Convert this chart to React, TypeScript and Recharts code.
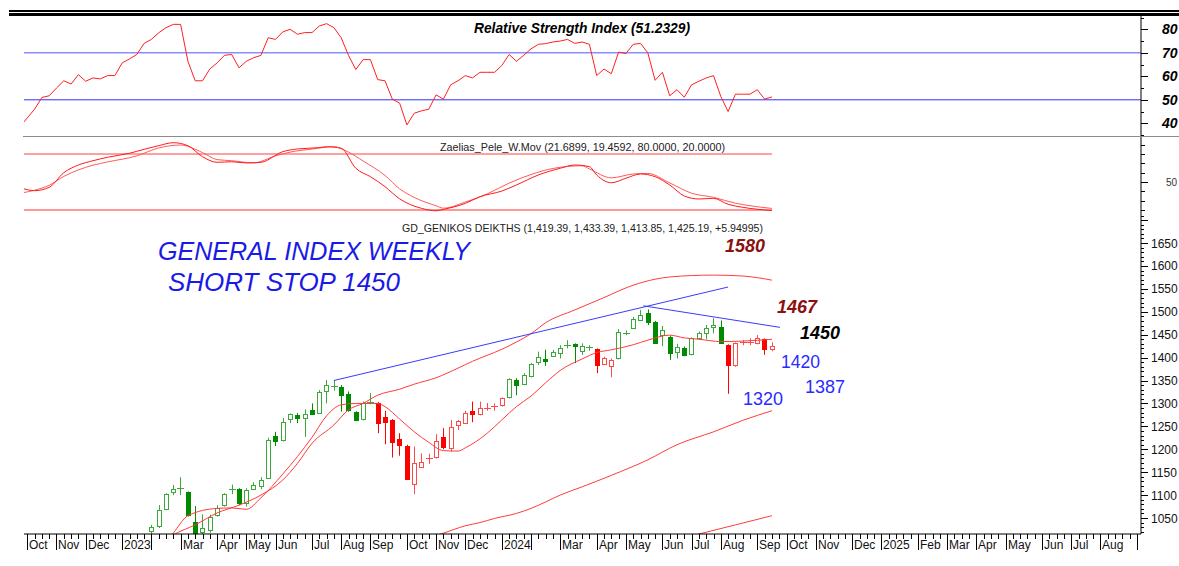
import React from 'react';
import { ComposedChart, Line, Bar, XAxis, YAxis, ReferenceLine } from 'recharts';

// ---------------- DATA ----------------
// week index 0 = week ending Fri 7 Oct 2022
const FIRST_CANDLE_WEEK = 17;
const opens = [
  1022, 1031, 1069, 1106, 1114, 1106, 1042, 1020, 1024, 1055,
  1077, 1112, 1113, 1082, 1113, 1120, 1137, 1228, 1219, 1265,
  1275, 1269, 1286, 1280, 1326, 1337, 1335, 1321, 1281, 1264,
  1301, 1302, 1271, 1264, 1222, 1208, 1124, 1163, 1178, 1182,
  1226, 1202, 1252, 1259, 1283, 1276, 1288, 1292, 1295, 1313,
  1351, 1342, 1359, 1391, 1396, 1404, 1411, 1426, 1429, 1415,
  1421, 1418, 1386, 1382, 1398, 1452, 1464, 1484, 1498, 1478,
  1448, 1444, 1413, 1422, 1408, 1442, 1454, 1466, 1467, 1427,
  1382, 1431, 1433, 1431, 1440, 1419.39,
];
const highs = [
  1035, 1078, 1104, 1122, 1139, 1108, 1076, 1058, 1057, 1078,
  1104, 1123, 1115, 1115, 1128, 1139, 1225, 1238, 1268, 1278,
  1279, 1287, 1300, 1329, 1351, 1351, 1340, 1326, 1283, 1304,
  1323, 1303, 1284, 1266, 1235, 1210, 1206, 1191, 1190, 1233,
  1246, 1264, 1264, 1284, 1304, 1304, 1301, 1300, 1313, 1355,
  1355, 1366, 1388, 1413, 1417, 1417, 1427, 1438, 1431, 1431,
  1427, 1420, 1402, 1398, 1462, 1459, 1489, 1504, 1505, 1480,
  1469, 1448, 1430, 1424, 1444, 1457, 1471, 1486, 1481, 1429,
  1433, 1438, 1442, 1449, 1442, 1433.39,
];
const lows = [
  1015, 1028, 1067, 1100, 1100, 1053, 1017, 1015, 1018, 1053,
  1075, 1102, 1078, 1075, 1111, 1113, 1135, 1207, 1217, 1257,
  1257, 1227, 1275, 1279, 1300, 1328, 1282, 1282, 1262, 1263,
  1298, 1235, 1211, 1182, 1186, 1133, 1102, 1162, 1168, 1180,
  1200, 1195, 1242, 1255, 1259, 1274, 1284, 1284, 1293, 1311,
  1318, 1340, 1357, 1384, 1382, 1402, 1398, 1420, 1388, 1406,
  1415, 1366, 1384, 1357, 1396, 1449, 1462, 1482, 1471, 1430,
  1425, 1395, 1398, 1403, 1405, 1440, 1440, 1453, 1430, 1321,
  1380, 1427, 1427, 1429, 1406, 1413.85,
];
const closes = [
  1031, 1067, 1102, 1113, 1116, 1055, 1019, 1028, 1053, 1071,
  1102, 1114, 1083, 1111, 1122, 1133, 1220, 1217, 1259, 1276,
  1268, 1278, 1278, 1326, 1340, 1339, 1318, 1286, 1264, 1300,
  1303, 1258, 1259, 1216, 1208, 1135, 1169, 1173, 1180, 1218,
  1204, 1248, 1261, 1280, 1276, 1289, 1290, 1294, 1311, 1353,
  1340, 1362, 1386, 1402, 1391, 1413, 1422, 1428, 1424, 1425,
  1423, 1384, 1400, 1395, 1455, 1454, 1484, 1494, 1478, 1432,
  1460, 1410, 1424, 1406, 1442, 1454, 1464, 1471, 1432, 1384,
  1431, 1433, 1435, 1442, 1418, 1425.19,
];
// trend regime (candle colour)
const trendSegments = [
  { from: 17, to: 47, dir: 'up' },
  { from: 48, to: 65, dir: 'down' },
  { from: 66, to: 77, dir: 'up' },
  { from: 78, to: 80, dir: 'down' },
  { from: 81, to: 95, dir: 'up' },
  { from: 96, to: 102, dir: 'down' },
];

const RSI_START_WEEK = -1;
const rsiValues = [
  38.6, 42.3, 46, 51, 51.7, 55, 58.1, 56.7, 60.7, 57.9,
  59.3, 58.9, 60.3, 60.3, 65.7, 67.4, 69.3, 74, 75.7, 78.5,
  80.7, 82.1, 82.1, 66.4, 58.1, 58.1, 63.1, 65.7, 68.9, 69.3,
  63.6, 66.4, 67.9, 68.9, 76.4, 75.7, 78.9, 80, 77.9, 78.6,
  78.6, 81.4, 82.4, 80.7, 76.4, 68.9, 62.9, 67.1, 67.1, 58.6,
  58.1, 50.3, 48.6, 39.3, 44.3, 45.3, 46, 52.1, 50.3, 56.4,
  58.1, 60.3, 59.3, 61.7, 61.7, 61.7, 64.6, 69.3, 66.4, 68.9,
  71.7, 73.6, 73.9, 74.6, 75, 75.7, 74, 74.6, 73.6, 60.3,
  63.1, 61.1, 70.3, 69.7, 73.6, 74, 70, 58.3, 61.7, 51.7,
  54.3, 51.1, 56.4, 57.9, 59.3, 60.3, 51.4, 45, 52.4, 52.4,
  52.4, 54.3, 50.3, 51.2,
];

const zaeliasFast: [number, number][] = [
  [-1, 44], [1, 40.7], [3, 44.3], [5, 60], [7, 68.2], [9, 72.8], [11, 76.5], [14, 80.8],
  [16, 85], [18, 88.9], [20, 92.1], [22, 88.9], [24, 77.1], [26, 71.1], [28, 71.7], [30, 70.4],
  [32, 71.1], [35, 82.5], [37, 85.4], [40, 86.8], [41, 87.8], [43, 86.1], [45, 64.7], [47, 55.7],
  [49, 45], [51, 32], [54, 21.8], [56, 19.2], [57, 20.7], [60, 27.1], [62, 34.2], [65, 40.3],
  [67, 46.8], [70, 57.5], [73, 64.7], [75, 68.2], [77, 66.4], [78, 57.5], [80, 49.2], [82, 54],
  [84, 58.6], [86, 55.7], [88, 46.8], [90, 35], [92, 31.8], [94, 32.5], [96, 26.1], [98, 22.9],
  [102, 19.46],
];
const zaeliasSlow: [number, number][] = [
  [-1, 38], [1, 41.2], [3, 46.5], [5, 56], [9, 68], [11, 71.5], [15, 78], [18, 86.5],
  [21, 89.6], [24, 81.5], [26, 74], [28, 72.8], [31, 70.5], [34, 78], [36, 82], [39, 85.3],
  [42, 87.8], [44, 82], [46, 72.5], [49, 57], [51, 42.7], [53, 33.5], [56, 24.5], [57, 22],
  [60, 28.5], [63, 37.3], [66, 48.8], [69, 58], [72, 64.5], [76, 67.4], [77, 64], [80, 54.5],
  [83, 58.6], [85, 59.2], [88, 49], [91, 38], [94, 33.6], [97, 27.3], [99, 24.6], [102, 21.69],
];

const midLine: [number, number][] = [
  [18, 978], [20, 1017], [22, 1055], [26, 1071], [28, 1072], [30, 1069], [32, 1094], [35, 1146],
  [37, 1184], [39, 1226], [41, 1273], [43, 1297], [45, 1300], [48, 1300], [49, 1293], [51, 1266],
  [53, 1238], [55, 1215], [57, 1197], [59, 1196], [60, 1203], [63, 1235], [65, 1264], [67, 1293],
  [69, 1316], [71, 1345], [73, 1372], [76, 1397], [78, 1411], [80, 1417], [83, 1428], [85, 1438],
  [88, 1449], [90, 1443], [92, 1440], [95, 1435], [98, 1436], [102, 1440],
];
const upperBand: [number, number][] = [
  [18, 990], [20, 1013], [23, 1035], [26, 1061], [29, 1078], [32, 1100], [35, 1133], [37, 1169],
  [39, 1213], [42, 1253], [44, 1286], [46, 1300], [48, 1318], [51, 1331], [53, 1342], [56, 1356],
  [59, 1377], [61, 1392], [63, 1405], [65, 1418], [67, 1434], [69, 1452], [71, 1476], [75, 1504],
  [79, 1531], [83, 1558], [86, 1571], [88, 1576], [94, 1580], [98, 1578], [102, 1569],
];
const lowerBand: [number, number][] = [
  [53, 997], [57, 1017], [60, 1033], [62, 1040], [64, 1049], [67, 1060], [69, 1071], [71, 1085],
  [73, 1100], [76, 1118], [80, 1143], [85, 1177], [89, 1210], [94, 1238], [98, 1263], [102, 1284],
];
const lowerBand2: [number, number][] = [
  [88, 999], [92, 1015], [97, 1035], [102, 1055],
];

const risingTrend = [{ x: 42, y: 1350 }, { x: 96, y: 1554 }];
const fallingTrend = [{ x: 84.4, y: 1513 }, { x: 103.1, y: 1466 }];

const monthTicks = [
  { w: 0, label: 'Oct' }, { w: 4, label: 'Nov' }, { w: 8, label: 'Dec' }, { w: 13, label: '2023' },
  { w: 17, label: '' }, { w: 21, label: 'Mar' }, { w: 26, label: 'Apr' }, { w: 30, label: 'May' },
  { w: 34, label: 'Jun' }, { w: 39, label: 'Jul' }, { w: 43, label: 'Aug' }, { w: 47, label: 'Sep' },
  { w: 52, label: 'Oct' }, { w: 56, label: 'Nov' }, { w: 60, label: 'Dec' }, { w: 65, label: '2024' },
  { w: 69, label: '' }, { w: 73, label: 'Mar' }, { w: 78, label: 'Apr' }, { w: 82, label: 'May' },
  { w: 87, label: 'Jun' }, { w: 91, label: 'Jul' }, { w: 95, label: 'Aug' }, { w: 100, label: 'Sep' },
  { w: 104, label: 'Oct' }, { w: 108, label: 'Nov' }, { w: 113, label: 'Dec' }, { w: 117, label: '2025' },
  { w: 122, label: 'Feb' }, { w: 126, label: 'Mar' }, { w: 130, label: 'Apr' }, { w: 134, label: 'May' },
  { w: 139, label: 'Jun' }, { w: 143, label: 'Jul' }, { w: 147, label: 'Aug' }, { w: 152, label: '' },
];
const LAST_WEEK_TICK = 152;

const rsiTickValues = [35, 40, 45, 50, 55, 60, 65, 70, 75, 80, 85];
const rsiLabels = [40, 50, 60, 70, 80];
const zTickValues = [20, 30, 40, 50, 60, 70, 80, 90];
const zLabels = [50];
const priceLabels = [1050, 1100, 1150, 1200, 1250, 1300, 1350, 1400, 1450, 1500, 1550, 1600, 1650];
const PRICE_MINOR_STEP = 10;
const PRICE_MINOR_FROM = 1020;
const PRICE_MINOR_TO = 1710;

const rsiTitle = 'Relative Strength Index (51.2329)';
const zTitle = 'Zaelias_Pele_W.Mov (21.6899, 19.4592, 80.0000, 20.0000)';
const priceTitle = 'GD_GENIKOS DEIKTHS (1,419.39, 1,433.39, 1,413.85, 1,425.19, +5.94995)';
const noteLine1 = 'GENERAL INDEX WEEKLY';
const noteLine2 = 'SHORT STOP 1450';

// ---------------- TABLE ----------------
type Row = { [k: string]: any; w: number };
const rows: Row[] = [];
for (let w = -1; w <= 103; w++) rows.push({ w });
const at = (w: number) => rows[w + 1];
rsiValues.forEach((v, i) => { at(RSI_START_WEEK + i).rsi = v; });
zaeliasFast.forEach(([w, v]) => { at(w).zf = v; });
zaeliasSlow.forEach(([w, v]) => { at(w).zs = v; });
midLine.forEach(([w, v]) => { at(w).mid = v; });
upperBand.forEach(([w, v]) => { at(w).up = v; });
lowerBand.forEach(([w, v]) => { at(w).lo = v; });
lowerBand2.forEach(([w, v]) => { at(w).lo2 = v; });
opens.forEach((o, i) => {
  const w = FIRST_CANDLE_WEEK + i;
  const r = at(w);
  r.o = o; r.h = highs[i]; r.l = lows[i]; r.c = closes[i];
  r.range = [lows[i], highs[i]];
  const seg = trendSegments.find((s) => w >= s.from && w <= s.to);
  r.t = seg ? seg.dir : 'up';
});

const weekTicks: number[] = [];
for (let w = 0; w <= LAST_WEEK_TICK; w++) weekTicks.push(w);
const monthMap = new Map(monthTicks.map((m) => [m.w, m.label]));
const priceTicks: number[] = [];
for (let v = PRICE_MINOR_FROM; v <= PRICE_MINOR_TO; v += PRICE_MINOR_STEP) priceTicks.push(v);

const X_DOMAIN: [number, number] = [-0.452, 152.56];
const FONT = '"Liberation Sans", Arial, sans-serif';
const MARGIN = { top: 0, right: 0, bottom: 0, left: 24 };

// ---------------- RENDERERS ----------------
const WeekTick = (p: any) => {
  const { x, y, payload } = p;
  const xx = Math.round(x) + 0.5;
  if (monthMap.has(payload.value)) {
    const label = monthMap.get(payload.value);
    return (
      <g>
        <line x1={xx} x2={xx} y1={y} y2={y + 16} stroke="#000" />
        {label ? (
          <text x={xx + 1.5} y={y + 14.5} fontSize={12} fontFamily={FONT} fill="#111">{label}</text>
        ) : null}
      </g>
    );
  }
  return <line x1={xx} x2={xx} y1={y} y2={y + 5} stroke="#000" />;
};

const makeYTick = (labels: number[], fontSize: number, bold: boolean, dx: number, majorLen: number, minorLen: number, color: string) =>
  (p: any) => {
    const { x, y, payload } = p;
    const yy = Math.round(y) + 0.5;
    const major = labels.includes(payload.value);
    return (
      <g>
        <line x1={x} x2={x + (major ? majorLen : minorLen)} y1={yy} y2={yy} stroke="#000" />
        {major ? (
          <text x={x + dx} y={y + fontSize * 0.36} fontSize={fontSize} fontFamily={FONT}
            fontWeight={bold ? 'bold' : 'normal'} fontStyle={bold ? 'italic' : 'normal'} fill={color}>
            {payload.value}
          </text>
        ) : null}
      </g>
    );
  };

const RsiTick = makeYTick(rsiLabels, 14, true, 21, 7, 3, '#000');
const ZTick = makeYTick(zLabels, 10, false, 25, 7, 4, '#333');
const PriceTick = (p: any) => {
  const { x, y, payload } = p;
  const yy = Math.round(y) + 0.5;
  const major = payload.value % 50 === 0;
  const labeled = priceLabels.includes(payload.value);
  return (
    <g>
      <line x1={x} x2={x + (major ? 7 : 3)} y1={yy} y2={yy} stroke="#000" />
      {labeled ? (
        <text x={x + 10} y={y + 4.5} fontSize={12} fontFamily={FONT} fill="#111">{payload.value}</text>
      ) : null}
    </g>
  );
};

const CandleShape = (props: any) => {
  const { x, y, width, height, payload } = props;
  if (!payload || payload.o == null) return null;
  const { o, h, l, c, t } = payload;
  const top = Math.min(y, y + height);
  const span = Math.abs(height);
  const k = span / (h - l);
  const py = (v: number) => top + (h - v) * k;
  const cx = Math.round(x + width / 2) + 0.5;
  const isUp = t === 'up';
  const solid = isUp ? '#008a00' : '#ff0000';
  const light = isUp ? '#3aa83a' : '#ff4a4a';
  const rising = c > o;
  const col = rising ? light : solid;
  const yo = py(o);
  const yc = py(c);
  const bTop = Math.min(yo, yc);
  const bBot = Math.max(yo, yc);
  return (
    <g>
      <line x1={cx} x2={cx} y1={py(h)} y2={py(l)} stroke={col} strokeWidth={1} />
      {bBot - bTop < 1.6 ? (
        <line x1={cx - 3.5} x2={cx + 3.5} y1={Math.round(yc) + 0.5} y2={Math.round(yc) + 0.5} stroke={col} />
      ) : (
        <rect x={cx - 2} y={Math.round(bTop) + 0.5} width={4} height={Math.max(1, Math.round(bBot - bTop))}
          fill={rising ? '#fff' : solid} stroke={col} strokeWidth={1} />
      )}
    </g>
  );
};

const lineProps = { dot: false, activeDot: false, isAnimationActive: false, connectNulls: true } as const;

export default function App() {
  return (
    <div style={{ position: 'absolute', left: 0, top: 0, width: 1179, height: 566, overflow: 'hidden', background: '#fff', fontFamily: FONT }}>
      <div style={{ position: 'absolute', left: 9, top: 10, width: 1170, height: 2, background: '#000' }} />
      <div style={{ position: 'absolute', left: 9, top: 13, width: 1170, height: 3, background: '#000' }} />

      {/* RSI panel */}
      <div style={{ position: 'absolute', left: 0, top: 16 }}>
        <ComposedChart width={1179} height={120} data={rows} margin={MARGIN}>
          <XAxis dataKey="w" type="number" domain={X_DOMAIN} allowDataOverflow hide />
          <YAxis orientation="right" width={38} type="number" domain={[34.6, 85.66]} allowDataOverflow
            ticks={rsiTickValues} interval={0} tick={RsiTick} tickLine={false} tickSize={0} tickMargin={0}
            axisLine={{ stroke: '#000' }} />
          <ReferenceLine y={70} stroke="#8c8cff" strokeWidth={1.5} />
          <ReferenceLine y={50} stroke="#3030ff" strokeWidth={1} />
          <Line dataKey="rsi" type="linear" stroke="#ff2020" strokeWidth={1} {...lineProps} />
        </ComposedChart>
      </div>
      <div style={{ position: 'absolute', left: 23, top: 136, width: 1156, height: 1, background: '#8c8c8c' }} />

      {/* Zaelias panel */}
      <div style={{ position: 'absolute', left: 0, top: 137 }}>
        <ComposedChart width={1179} height={76} data={rows} margin={MARGIN}>
          <XAxis dataKey="w" type="number" domain={X_DOMAIN} allowDataOverflow hide />
          <YAxis orientation="right" width={38} type="number" domain={[16.8, 98.2]} allowDataOverflow
            ticks={zTickValues} interval={0} tick={ZTick} tickLine={false} tickSize={0} tickMargin={0}
            axisLine={{ stroke: '#000' }} />
          <ReferenceLine segment={[{ x: X_DOMAIN[0], y: 80 }, { x: 102, y: 80 }]} stroke="#ffa0a0" strokeWidth={2} ifOverflow="visible" />
          <ReferenceLine segment={[{ x: X_DOMAIN[0], y: 20 }, { x: 102, y: 20 }]} stroke="#ff3030" strokeWidth={1.2} ifOverflow="visible" />
          <Line dataKey="zs" type="monotone" stroke="#ff5a5a" strokeWidth={1} {...lineProps} />
          <Line dataKey="zf" type="monotone" stroke="#ff1a1a" strokeWidth={1} {...lineProps} />
        </ComposedChart>
      </div>

      {/* Price panel */}
      <div style={{ position: 'absolute', left: 0, top: 213 }}>
        <ComposedChart width={1179} height={353} data={rows} margin={MARGIN}>
          <XAxis dataKey="w" type="number" domain={X_DOMAIN} allowDataOverflow ticks={weekTicks} interval={0}
            tick={WeekTick} tickLine={false} tickSize={0} tickMargin={0} height={32} axisLine={{ stroke: '#000' }} />
          <YAxis orientation="right" width={38} type="number" domain={[1015.1, 1715.5]} allowDataOverflow
            ticks={priceTicks} interval={0} tick={PriceTick} tickLine={false} tickSize={0} tickMargin={0}
            axisLine={{ stroke: '#000' }} />
          <Line dataKey="lo2" type="monotone" stroke="#ff3b3b" strokeWidth={1} {...lineProps} />
          <Line dataKey="lo" type="monotone" stroke="#ff3b3b" strokeWidth={1} {...lineProps} />
          <Line dataKey="up" type="monotone" stroke="#ff3b3b" strokeWidth={1} {...lineProps} />
          <Line dataKey="mid" type="monotone" stroke="#ff3b3b" strokeWidth={1} {...lineProps} />
          <ReferenceLine segment={risingTrend} stroke="#3a3aff" strokeWidth={1} ifOverflow="visible" />
          <ReferenceLine segment={fallingTrend} stroke="#3a3aff" strokeWidth={1} ifOverflow="visible" />
          <Bar dataKey="range" barSize={5} shape={CandleShape} isAnimationActive={false} />
        </ComposedChart>
      </div>

      {/* Texts */}
      <svg width={1179} height={566} style={{ position: 'absolute', left: 0, top: 0, pointerEvents: 'none' }}>
        <text x={474} y={33} fontFamily={FONT} fontWeight="bold" fontStyle="italic" fontSize={14} fill="#000"
          textLength={216} lengthAdjust="spacingAndGlyphs">{rsiTitle}</text>
        <text x={440} y={151} fontFamily={FONT} fontSize={11} fill="#222" textLength={285} lengthAdjust="spacingAndGlyphs">{zTitle}</text>
        <text x={402} y={232} fontFamily={FONT} fontSize={11} fill="#222" textLength={361} lengthAdjust="spacingAndGlyphs">{priceTitle}</text>
        <text x={158} y={260} fontFamily={FONT} fontStyle="italic" fontSize={25} fill="#1a1ae6" textLength={312} lengthAdjust="spacingAndGlyphs">{noteLine1}</text>
        <text x={168} y={291} fontFamily={FONT} fontStyle="italic" fontSize={25} fill="#1a1ae6" textLength={232} lengthAdjust="spacingAndGlyphs">{noteLine2}</text>
        <text x={725} y={252} fontFamily={FONT} fontWeight="bold" fontStyle="italic" fontSize={19} fill="#8b1010" textLength={40} lengthAdjust="spacingAndGlyphs">1580</text>
        <text x={777} y={313} fontFamily={FONT} fontWeight="bold" fontStyle="italic" fontSize={19} fill="#8b1010" textLength={40} lengthAdjust="spacingAndGlyphs">1467</text>
        <text x={800} y={339} fontFamily={FONT} fontWeight="bold" fontStyle="italic" fontSize={19} fill="#000" textLength={40} lengthAdjust="spacingAndGlyphs">1450</text>
        <text x={781} y={368} fontFamily={FONT} fontSize={19} fill="#2a2aff" textLength={39} lengthAdjust="spacingAndGlyphs">1420</text>
        <text x={805} y={393} fontFamily={FONT} fontSize={19} fill="#2a2aff" textLength={40} lengthAdjust="spacingAndGlyphs">1387</text>
        <text x={743} y={405} fontFamily={FONT} fontSize={19} fill="#2a2aff" textLength={40} lengthAdjust="spacingAndGlyphs">1320</text>
      </svg>
    </div>
  );
}
